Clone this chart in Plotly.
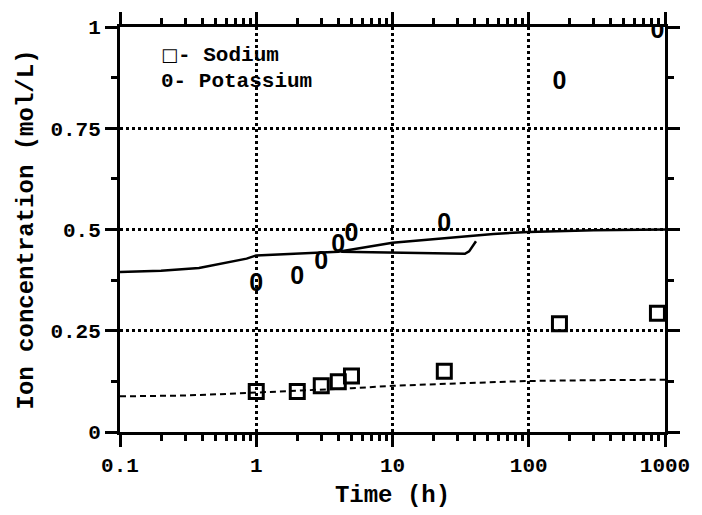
import plotly.graph_objects as go

# Measured data
sodium_t = [1, 2, 3, 4, 5, 24, 168, 880]
sodium_c = [0.100, 0.100, 0.114, 0.124, 0.138, 0.150, 0.267, 0.293]
potassium_t = [1, 2, 3, 4, 5, 24, 168, 880]
potassium_c = [0.364, 0.381, 0.417, 0.460, 0.486, 0.512, 0.862, 0.988]

# Model curves
na_model_t = [0.1, 0.3, 0.6, 1, 2, 5, 10, 30, 100, 300, 1000]
na_model_c = [0.088, 0.090, 0.094, 0.098, 0.102, 0.108, 0.114, 0.120, 0.126, 0.128, 0.129]
k_model_t = [0.1, 0.2, 0.38, 0.65, 0.85, 1, 2, 4, 10, 24, 55, 100, 300, 1000]
k_model_c = [0.395, 0.398, 0.405, 0.420, 0.428, 0.436, 0.440, 0.445, 0.467, 0.479, 0.489, 0.494, 0.498, 0.500]
k_alt_t = [4.2, 10, 20, 34, 36.5, 38.5, 41]
k_alt_c = [0.445, 0.443, 0.441, 0.440, 0.446, 0.458, 0.471]

x_ticks = [0.1, 1, 10, 100, 1000]
x_ticklabels = ["0.1", "1", "10", "100", "1000"]
y_ticks = [0, 0.25, 0.5, 0.75, 1]
y_ticklabels = ["0", "0.25", "0.5", "0.75", "1"]

FONT = "Liberation Mono"

fig = go.Figure()
fig.add_trace(go.Scatter(x=na_model_t, y=na_model_c, mode="lines",
                         line=dict(color="black", width=2, dash="6px,4px"), showlegend=False))
fig.add_trace(go.Scatter(x=k_model_t, y=k_model_c, mode="lines",
                         line=dict(color="black", width=2.5), showlegend=False))
fig.add_trace(go.Scatter(x=k_alt_t, y=k_alt_c, mode="lines",
                         line=dict(color="black", width=2.5), showlegend=False))
fig.add_trace(go.Scatter(x=sodium_t, y=sodium_c, mode="markers",
                         marker=dict(symbol="square-open", size=14, color="black",
                                     line=dict(color="black", width=3)),
                         showlegend=False))
fig.add_trace(go.Scatter(x=potassium_t, y=potassium_c, mode="text", text=["0"] * len(potassium_t),
                         textfont=dict(family="Liberation Sans Narrow, Liberation Sans", size=25,
                                       color="black", weight="bold"),
                         textposition="middle center", showlegend=False))

axis_common = dict(showline=True, linecolor="black", linewidth=3, mirror="ticks",
                   ticks="outside", tickcolor="black", tickwidth=3, ticklen=12,
                   showgrid=True, gridcolor="black", gridwidth=2.5, griddash="dot",
                   zeroline=False, tickfont=dict(family=FONT, size=21, color="black", weight="bold"))

fig.update_xaxes(type="log", range=[-1, 3], tickvals=x_ticks, ticktext=x_ticklabels,
                 minor=dict(ticks="outside", ticklen=6, tickwidth=3, tickcolor="black",
                            dtick="D1", showgrid=False),
                 title=dict(text="Time (h)", font=dict(family=FONT, size=24, color="black", weight="bold"),
                            standoff=8),
                 **axis_common)
fig.update_yaxes(range=[0, 1], tickvals=y_ticks, ticktext=y_ticklabels,
                 minor=dict(ticks="outside", ticklen=6, tickwidth=3, tickcolor="black",
                            dtick=0.125, showgrid=False),
                 title=dict(text="Ion concentration (mol/L)",
                            font=dict(family=FONT, size=24, color="black", weight="bold"), standoff=10),
                 **axis_common)

fig.add_annotation(x=0.072, y=0.929, xref="paper", yref="paper", xanchor="left", yanchor="middle",
                   text="<span style='font-family:DejaVu Sans;font-weight:normal;font-size:18px'>□</span>- Sodium",
                   showarrow=False,
                   font=dict(family=FONT, size=21, color="black", weight="bold"))
fig.add_annotation(x=0.072, y=0.866, xref="paper", yref="paper", xanchor="left", yanchor="middle",
                   text="0- Potassium", showarrow=False,
                   font=dict(family=FONT, size=21, color="black", weight="bold"))

fig.update_layout(width=702, height=515, margin=dict(l=120, r=27, t=25, b=70),
                  plot_bgcolor="white", paper_bgcolor="white")

fig.write_html("out.html")
